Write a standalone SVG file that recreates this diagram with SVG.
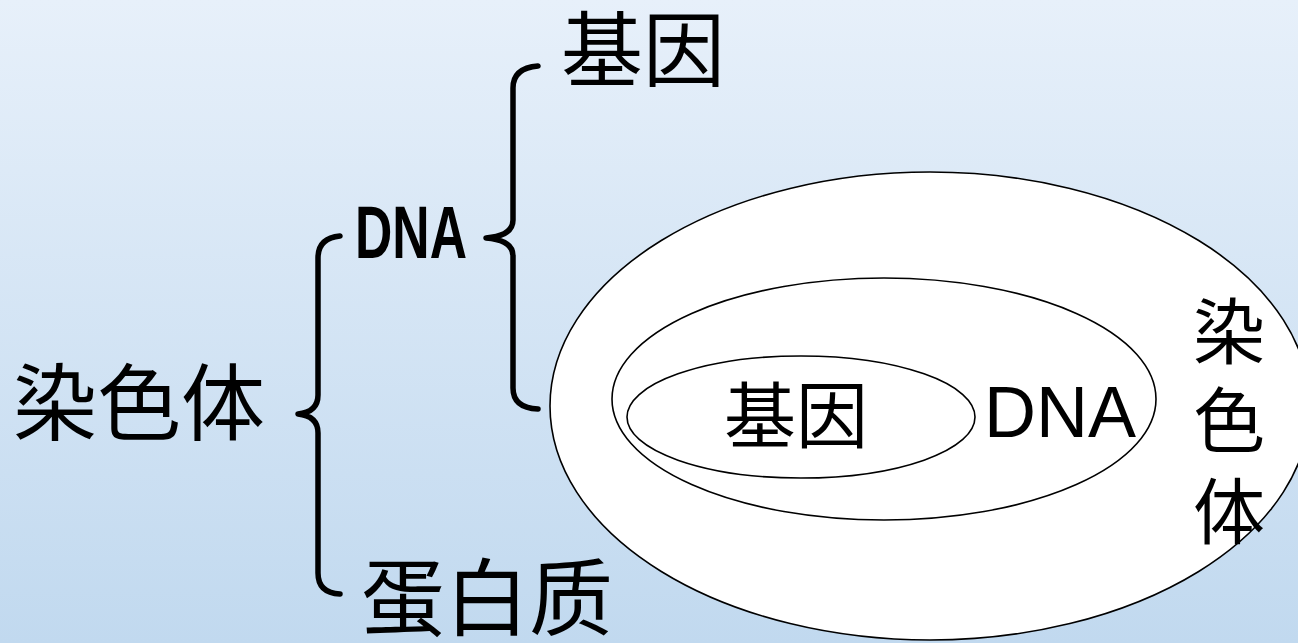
<svg xmlns="http://www.w3.org/2000/svg" width="1298" height="643" viewBox="0 0 1298 643">
<defs>
<linearGradient id="bg" x1="0" y1="0" x2="0" y2="1">
<stop offset="0" stop-color="#e7f0fa"/>
<stop offset="1" stop-color="#c1d9ef"/>
</linearGradient>
</defs>
<style>
.cjk{font-family:"Noto Sans CJK SC","Noto Sans CJK JP",sans-serif;fill:#000}
.brace{fill:none;stroke:#000;stroke-width:5.5;stroke-linecap:round;stroke-linejoin:round}
.ell{stroke:#000;stroke-width:1.6;fill:none}
</style>
<rect width="1298" height="643" fill="url(#bg)"/>
<g id="connectors">
<path class="brace" d="M340,236 Q318,238 318,258 L318,395 Q318,412 298,414 Q318,416 318,433 L318,573 Q318,593 340,594"/>
<path class="brace" d="M538,66 Q513,68 513,88 L513,220 Q513,236 486,238 Q513,240 513,256 L513,388 Q513,408 538,409"/>
</g>
<g id="node-chromosome-set">
<ellipse cx="930" cy="406" rx="380" ry="234" fill="#fff" stroke="#000" stroke-width="1.6"/>
<text class="cjk" font-size="72" text-anchor="middle"><tspan x="1229" y="358">染</tspan><tspan x="1229" y="447">色</tspan><tspan x="1229" y="538">体</tspan></text>
</g>
<g id="node-dna-set">
<ellipse class="ell" cx="884" cy="399" rx="272" ry="121"/>
<text x="1060" y="437" font-family="Liberation Sans, Arial, sans-serif" font-size="72" text-anchor="middle">DNA</text>
</g>
<g id="node-gene-set">
<ellipse class="ell" cx="801" cy="417" rx="174" ry="61"/>
<text class="cjk" x="796" y="442" font-size="72" text-anchor="middle">基因</text>
</g>
<g id="node-chromosome">
<text class="cjk" x="13" y="434" font-size="84">染色体</text>
</g>
<g id="node-dna">
<text x="355" y="258" font-family="Liberation Sans, Arial, sans-serif" font-weight="bold" font-size="74" textLength="112" lengthAdjust="spacingAndGlyphs">DNA</text>
</g>
<g id="node-gene">
<text class="cjk" x="561" y="80" font-size="82">基因</text>
</g>
<g id="node-protein">
<text class="cjk" x="361" y="629" font-size="84">蛋白质</text>
</g>
</svg>
